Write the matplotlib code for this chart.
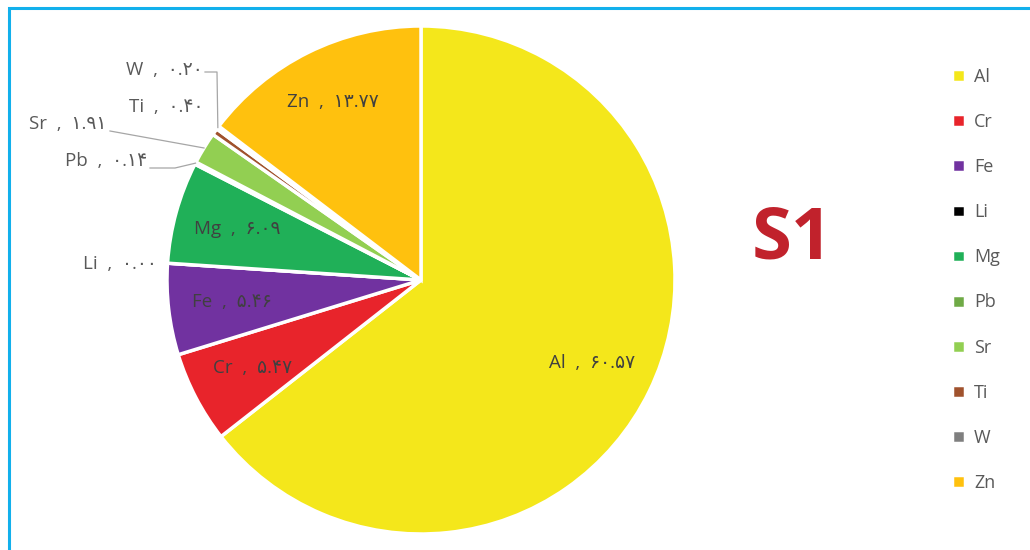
import numpy as np
import matplotlib.pyplot as plt
from matplotlib.patches import Rectangle

elements = ["Al", "Cr", "Fe", "Li", "Mg", "Pb", "Sr", "Ti", "W", "Zn"]
shares = [60.57, 5.47, 5.46, 0.00, 6.09, 0.14, 1.91, 0.40, 0.20, 13.77]
colors = ["#F4E71B", "#E8242B", "#7132A0", "#000000", "#20B058",
          "#6FAA46", "#92CF52", "#A0522D", "#7F7F7F", "#FFC10E"]

PERSIAN = str.maketrans("0123456789", "۰۱۲۳۴۵۶۷۸۹")
FONT = ["Open Sans", "DejaVu Sans"]
TEXT_GRAY = "#595959"
LABEL_SIZE = 13.5


def fa_label(name, value):
    return f"{name}  ,  " + f"{value:.2f}".translate(PERSIAN)


fig = plt.figure(figsize=(10.3, 5.5), dpi=100)
W, H = 1030, 550

# frame around the chart
fig.patches.append(Rectangle((9 / W, -0.05), 1.1, (H - 8) / H + 0.05,
                             transform=fig.transFigure, fill=False,
                             edgecolor="#12B0EC", linewidth=2.2))

cx, cy, r = 421, 280, 254
ax = fig.add_axes([(cx - r) / W, (H - cy - r) / H, 2 * r / W, 2 * r / H])
wedges, _ = ax.pie(shares, colors=colors, startangle=90, counterclock=False,
                   radius=1, wedgeprops=dict(edgecolor="white", linewidth=2.5))
ax.set_xlim(-1, 1)
ax.set_ylim(-1, 1)
ax.set_aspect("equal")
ax.axis("off")

# mid angle of each wedge (math convention, degrees)
mid = {e: (w.theta1 + w.theta2) / 2 for e, w in zip(elements, wedges)}


def polar(ang, rad):
    a = np.deg2rad(ang)
    return rad * np.cos(a), rad * np.sin(a)


def px(x, y):
    return (x - cx) / r, (cy - y) / r


# labels inside the larger wedges
for e, v in zip(elements, shares):
    if e in ("Al", "Cr", "Fe", "Mg", "Zn"):
        rad = 0.78 if e == "Zn" else 0.75
        x, y = polar(mid[e], rad)
        ax.text(x, y, fa_label(e, v), ha="center", va="center",
                fontsize=LABEL_SIZE, color="#404040", family=FONT)

# labels outside the thin wedges, with leader lines
vals = dict(zip(elements, shares))
outside = {
    "W": (203, 70),
    "Ti": (203, 107),
    "Sr": (106, 124),
    "Pb": (147, 161),
    "Li": (157, 264),
}
for e, (tx, ty) in outside.items():
    x, y = px(tx, ty)
    ax.text(x, y, fa_label(e, vals[e]), ha="right", va="center",
            fontsize=LABEL_SIZE, color=TEXT_GRAY, family=FONT, clip_on=False)

line_kw = dict(color="#A6A6A6", linewidth=0.9, clip_on=False)
ex, ey = polar(mid["W"], 1.0)
x0, y0 = px(205, 72)
x1, _ = px(217, 72)
ax.plot([x0, x1, ex], [y0, y0, ey], **line_kw)

ex, ey = polar(mid["Sr"], 1.0)
x0, y0 = px(110, 131)
ax.plot([x0, ex], [y0, ey], **line_kw)

ex, ey = polar(mid["Pb"], 1.0)
x0, y0 = px(150, 168)
x1, _ = px(175, 168)
ax.plot([x0, x1, ex], [y0, y0, ey], **line_kw)

fig.text(792 / W, 1 - 240 / H, "S1", ha="center", va="center",
         fontsize=52, fontweight="bold", color="#C1222C", family=FONT)

fig.legend(wedges, elements, loc="upper left",
           bbox_to_anchor=(943 / W, 1 - 59 / H), frameon=False,
           labelcolor=TEXT_GRAY, prop=dict(family=FONT, size=13),
           handlelength=0.72, handleheight=0.72, handletextpad=0.5,
           labelspacing=1.5, borderpad=0)

fig.savefig("out.png", dpi=100, facecolor="white")
plt.close(fig)
